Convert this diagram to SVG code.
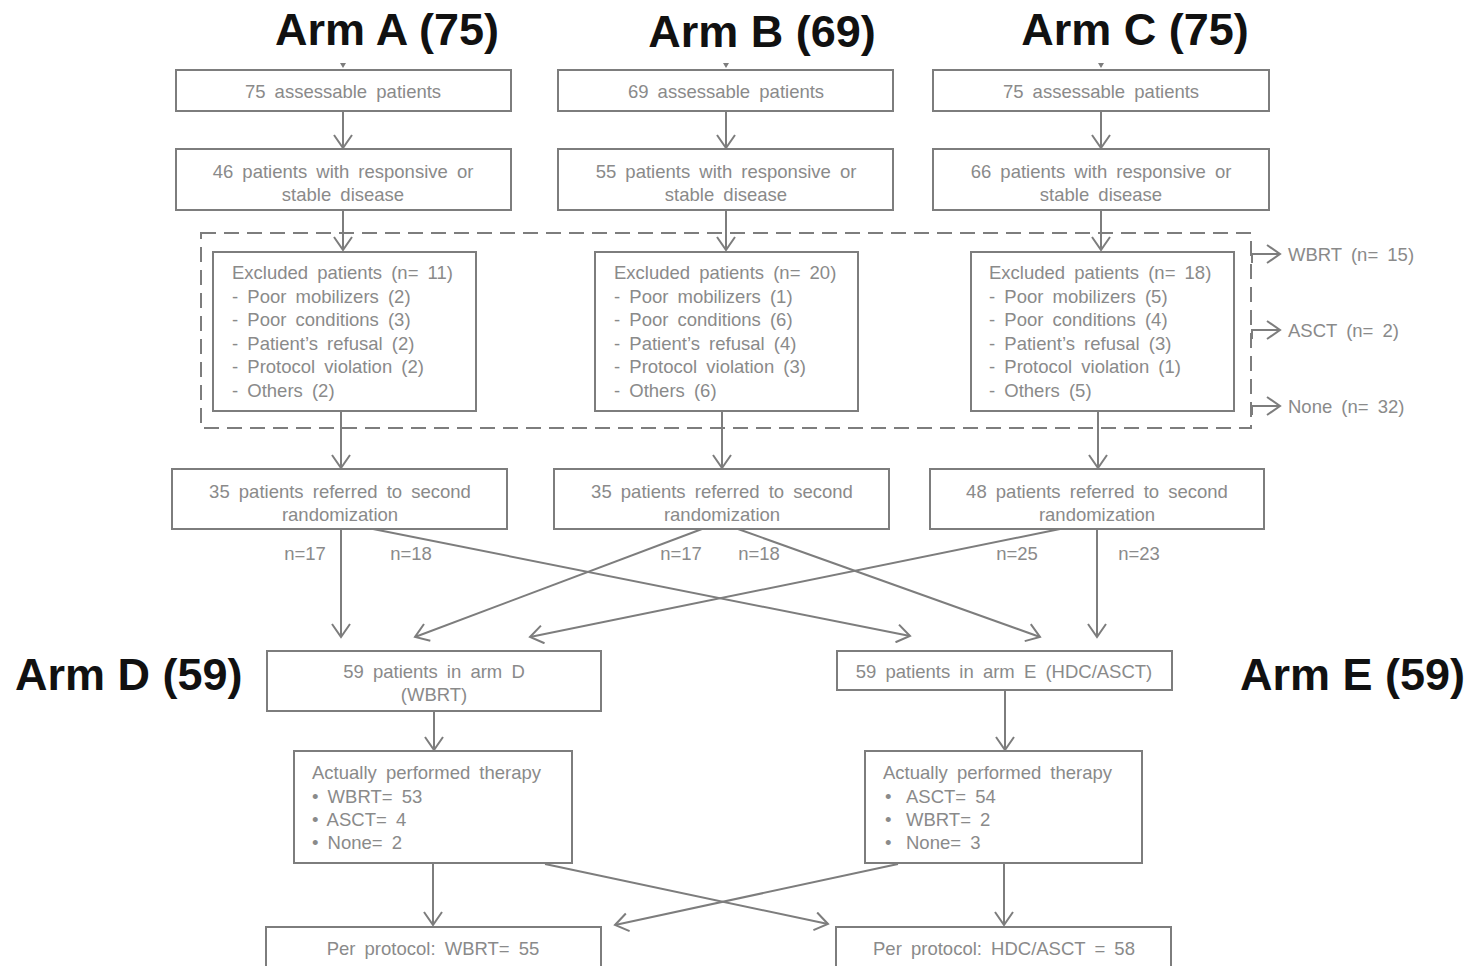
<svg xmlns="http://www.w3.org/2000/svg" width="1470" height="966" viewBox="0 0 1470 966">
<style>
.box{fill:#fff;stroke:#7d7d7d;stroke-width:2}
.t{font-family:"Liberation Sans",Arial,sans-serif;font-size:18.5px;fill:#8a8a8a;word-spacing:4px}
.c{text-anchor:middle}
.h{font-family:"Liberation Sans",Arial,sans-serif;font-size:45px;font-weight:bold;fill:#111}
.ln{fill:none;stroke:#7d7d7d;stroke-width:2}
.ar{fill:none;stroke:#7d7d7d;stroke-width:2;marker-end:url(#ah)}
</style>
<defs>
<marker id="ah" viewBox="0 0 20 20" refX="18" refY="10" markerWidth="20" markerHeight="20" markerUnits="userSpaceOnUse" orient="auto">
<path d="M5,1 L18,10 L5,19" fill="none" stroke="#7d7d7d" stroke-width="2"/>
</marker>
</defs>
<rect width="1470" height="966" fill="#fff"/>
<g id="titles">
<text class="h c" x="387" y="45">Arm A (75)</text>
<text class="h c" x="762" y="47">Arm B (69)</text>
<text class="h c" x="1135" y="45">Arm C (75)</text>
<text class="h" x="15" y="690">Arm D (59)</text>
<text class="h" x="1240" y="690">Arm E (59)</text>
</g>
<g id="connectors">
<path d="M340,63 L346,63 L343,68 Z" fill="#7d7d7d"/>
<path d="M723,63 L729,63 L726,68 Z" fill="#7d7d7d"/>
<path d="M1098,63 L1104,63 L1101,68 Z" fill="#7d7d7d"/>
<rect x="201" y="233" width="1050" height="195" fill="none" stroke="#7d7d7d" stroke-width="2" stroke-dasharray="15 8"/>
<line class="ar" x1="343" y1="111" x2="343" y2="148"/>
<line class="ar" x1="726" y1="111" x2="726" y2="148"/>
<line class="ar" x1="1101" y1="111" x2="1101" y2="148"/>
<line class="ar" x1="343" y1="210" x2="343" y2="250"/>
<line class="ar" x1="726" y1="210" x2="726" y2="250"/>
<line class="ar" x1="1101" y1="210" x2="1101" y2="250"/>
<line class="ar" x1="341" y1="411" x2="341" y2="468"/>
<line class="ar" x1="722" y1="411" x2="722" y2="468"/>
<line class="ar" x1="1098" y1="411" x2="1098" y2="468"/>
<path class="ar" d="M1252,263 V254 H1280"/>
<path class="ar" d="M1252,339 V330 H1280"/>
<path class="ar" d="M1252,415 V406 H1280"/>
<line class="ar" x1="341" y1="529" x2="341" y2="637"/>
<line class="ar" x1="373" y1="529" x2="910" y2="636"/>
<line class="ar" x1="702" y1="529" x2="415" y2="637"/>
<line class="ar" x1="738" y1="529" x2="1040" y2="637"/>
<line class="ar" x1="1060" y1="529" x2="530" y2="637"/>
<line class="ar" x1="1097" y1="529" x2="1097" y2="637"/>
<line class="ar" x1="434" y1="711" x2="434" y2="750"/>
<line class="ar" x1="1005" y1="690" x2="1005" y2="750"/>
<line class="ar" x1="433" y1="863" x2="433" y2="925"/>
<line class="ar" x1="1004" y1="863" x2="1004" y2="925"/>
<line class="ar" x1="545" y1="864" x2="828" y2="924"/>
<line class="ar" x1="898" y1="864" x2="615" y2="925"/>
</g>
<g id="side-labels">
<text class="t" x="1288" y="261">WBRT (n= 15)</text>
<text class="t" x="1288" y="337">ASCT (n= 2)</text>
<text class="t" x="1288" y="413">None (n= 32)</text>
<text class="t c" x="305" y="560">n=17</text>
<text class="t c" x="411" y="560">n=18</text>
<text class="t c" x="681" y="560">n=17</text>
<text class="t c" x="759" y="560">n=18</text>
<text class="t c" x="1017" y="560">n=25</text>
<text class="t c" x="1139" y="560">n=23</text>
</g>
<g id="a1"><rect class="box" x="176" y="70" width="335" height="41"/><text class="t c" x="343" y="98">75 assessable  patients</text></g>
<g id="b1"><rect class="box" x="558" y="70" width="335" height="41"/><text class="t c" x="726" y="98">69 assessable  patients</text></g>
<g id="c1"><rect class="box" x="933" y="70" width="336" height="41"/><text class="t c" x="1101" y="98">75 assessable  patients</text></g>
<g id="a2"><rect class="box" x="176" y="149" width="335" height="61"/><text class="t c" x="343" y="178">46 patients  with  responsive  or</text><text class="t c" x="343" y="201">stable  disease</text></g>
<g id="b2"><rect class="box" x="558" y="149" width="335" height="61"/><text class="t c" x="726" y="178">55 patients  with  responsive  or</text><text class="t c" x="726" y="201">stable  disease</text></g>
<g id="c2"><rect class="box" x="933" y="149" width="336" height="61"/><text class="t c" x="1101" y="178">66 patients  with  responsive  or</text><text class="t c" x="1101" y="201">stable  disease</text></g>
<g id="a3"><rect class="box" x="213" y="252" width="263" height="159"/>
<text class="t" x="232" y="279">Excluded  patients  (n= 11)</text>
<text class="t" x="232" y="303">- Poor mobilizers  (2)</text>
<text class="t" x="232" y="326">- Poor conditions  (3)</text>
<text class="t" x="232" y="350">- Patient’s  refusal  (2)</text>
<text class="t" x="232" y="373">- Protocol violation  (2)</text>
<text class="t" x="232" y="397">- Others  (2)</text></g>
<g id="b3"><rect class="box" x="595" y="252" width="263" height="159"/>
<text class="t" x="614" y="279">Excluded  patients  (n= 20)</text>
<text class="t" x="614" y="303">- Poor mobilizers  (1)</text>
<text class="t" x="614" y="326">- Poor conditions  (6)</text>
<text class="t" x="614" y="350">- Patient’s  refusal  (4)</text>
<text class="t" x="614" y="373">- Protocol violation  (3)</text>
<text class="t" x="614" y="397">- Others  (6)</text></g>
<g id="c3"><rect class="box" x="971" y="252" width="263" height="159"/>
<text class="t" x="989" y="279">Excluded  patients  (n= 18)</text>
<text class="t" x="989" y="303">- Poor mobilizers  (5)</text>
<text class="t" x="989" y="326">- Poor conditions  (4)</text>
<text class="t" x="989" y="350">- Patient’s  refusal  (3)</text>
<text class="t" x="989" y="373">- Protocol violation  (1)</text>
<text class="t" x="989" y="397">- Others  (5)</text></g>
<g id="a4"><rect class="box" x="172" y="469" width="335" height="60"/><text class="t c" x="340" y="498">35 patients  referred to  second</text><text class="t c" x="340" y="521">randomization</text></g>
<g id="b4"><rect class="box" x="554" y="469" width="335" height="60"/><text class="t c" x="722" y="498">35 patients  referred to second</text><text class="t c" x="722" y="521">randomization</text></g>
<g id="c4"><rect class="box" x="930" y="469" width="334" height="60"/><text class="t c" x="1097" y="498">48 patients  referred to  second</text><text class="t c" x="1097" y="521">randomization</text></g>
<g id="d1"><rect class="box" x="267" y="651" width="334" height="60"/><text class="t c" x="434" y="678">59 patients  in arm D</text><text class="t c" x="434" y="701">(WBRT)</text></g>
<g id="e1"><rect class="box" x="837" y="651" width="335" height="39"/><text class="t c" x="1004" y="678">59 patients  in arm E (HDC/ASCT)</text></g>
<g id="d2"><rect class="box" x="294" y="751" width="278" height="112"/>
<text class="t" x="312" y="779">Actually performed therapy</text>
<text class="t" x="312" y="803">• WBRT= 53</text>
<text class="t" x="312" y="826">• ASCT= 4</text>
<text class="t" x="312" y="849">• None= 2</text></g>
<g id="e2"><rect class="box" x="865" y="751" width="277" height="112"/>
<text class="t" x="883" y="779">Actually performed therapy</text>
<text class="t" x="885" y="803">•</text><text class="t" x="906" y="803">ASCT= 54</text>
<text class="t" x="885" y="826">•</text><text class="t" x="906" y="826">WBRT= 2</text>
<text class="t" x="885" y="849">•</text><text class="t" x="906" y="849">None= 3</text></g>
<g id="d3"><rect class="box" x="266" y="927" width="335" height="45"/><text class="t c" x="433" y="955">Per protocol: WBRT= 55</text></g>
<g id="e3"><rect class="box" x="836" y="927" width="335" height="45"/><text class="t c" x="1004" y="955">Per protocol: HDC/ASCT  = 58</text></g>
</svg>
